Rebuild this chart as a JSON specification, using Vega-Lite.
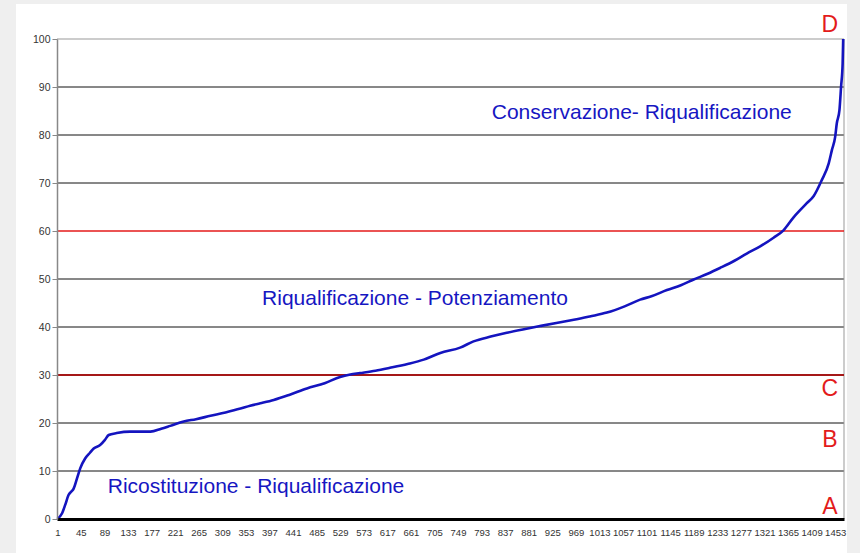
{
  "$schema": "https://vega.github.io/schema/vega-lite/v6.json",
  "width": 787,
  "height": 480,
  "autosize": "none",
  "padding": {"left": 57, "top": 39, "right": 16, "bottom": 34},
  "background": "#efefef",
  "config": {
    "view": {"stroke": null},
    "font": "Liberation Sans",
    "axis": {"labelOverlap": false}
  },
  "datasets": {
    "curve": [
      {"n": 1, "v": 0}, {"n": 10, "v": 1.2}, {"n": 16, "v": 3}, {"n": 22, "v": 5}, {"n": 28, "v": 5.8},
      {"n": 31, "v": 6.2}, {"n": 38, "v": 8.5}, {"n": 44, "v": 10.6}, {"n": 53, "v": 12.6}, {"n": 62, "v": 13.8},
      {"n": 69, "v": 14.7}, {"n": 81, "v": 15.4}, {"n": 90, "v": 16.5}, {"n": 97, "v": 17.5}, {"n": 112, "v": 17.9},
      {"n": 137, "v": 18.2}, {"n": 175, "v": 18.2}, {"n": 195, "v": 18.8}, {"n": 212, "v": 19.4}, {"n": 237, "v": 20.3},
      {"n": 260, "v": 20.8}, {"n": 287, "v": 21.5}, {"n": 315, "v": 22.2}, {"n": 343, "v": 23.0}, {"n": 361, "v": 23.6},
      {"n": 380, "v": 24.1}, {"n": 405, "v": 24.8}, {"n": 435, "v": 25.9}, {"n": 467, "v": 27.2}, {"n": 500, "v": 28.3},
      {"n": 529, "v": 29.6}, {"n": 548, "v": 30.1}, {"n": 566, "v": 30.4}, {"n": 595, "v": 30.9}, {"n": 622, "v": 31.5},
      {"n": 655, "v": 32.3}, {"n": 685, "v": 33.2}, {"n": 716, "v": 34.6}, {"n": 753, "v": 35.7}, {"n": 778, "v": 37.0},
      {"n": 810, "v": 38.0}, {"n": 840, "v": 38.8}, {"n": 870, "v": 39.5}, {"n": 902, "v": 40.2}, {"n": 935, "v": 40.9},
      {"n": 965, "v": 41.5}, {"n": 995, "v": 42.2}, {"n": 1027, "v": 43.0}, {"n": 1060, "v": 44.3}, {"n": 1089, "v": 45.7},
      {"n": 1110, "v": 46.4}, {"n": 1139, "v": 47.7}, {"n": 1165, "v": 48.7}, {"n": 1189, "v": 49.9}, {"n": 1215, "v": 51.1},
      {"n": 1238, "v": 52.3}, {"n": 1265, "v": 53.8}, {"n": 1288, "v": 55.3}, {"n": 1313, "v": 56.8}, {"n": 1338, "v": 58.6},
      {"n": 1357, "v": 60.2}, {"n": 1375, "v": 62.8}, {"n": 1388, "v": 64.4}, {"n": 1400, "v": 65.8}, {"n": 1413, "v": 67.3},
      {"n": 1428, "v": 70.6}, {"n": 1441, "v": 74.1}, {"n": 1447, "v": 76.9}, {"n": 1453, "v": 79.6}, {"n": 1456, "v": 82.4},
      {"n": 1461, "v": 85.2}, {"n": 1464, "v": 90.0}, {"n": 1467, "v": 95.0}, {"n": 1468, "v": 100}
    ],
    "grid": [{"g": 10}, {"g": 20}, {"g": 40}, {"g": 50}, {"g": 70}, {"g": 80}, {"g": 90}],
    "zones": [
      {"label": "Conservazione- Riqualificazione", "x": 1092, "y": 83.3},
      {"label": "Riqualificazione - Potenziamento", "x": 668.7, "y": 44.6},
      {"label": "Ricostituzione - Riqualificazione", "x": 372, "y": 5.5}
    ],
    "letters": [
      {"label": "D", "x": 1443, "y": 101.5},
      {"label": "C", "x": 1443, "y": 25.6},
      {"label": "B", "x": 1443, "y": 15.06},
      {"label": "A", "x": 1443, "y": 1.04}
    ]
  },
  "layer": [
    {
      "data": {"values": [{}]},
      "mark": {"type": "rect", "fill": "white", "clip": false},
      "encoding": {
        "x": {"datum": -76, "type": "quantitative", "title": null, "scale": {"domain": [0.5, 1469.5], "nice": false, "zero": false}},
        "x2": {"datum": 1475},
        "y": {"datum": 107.3, "type": "quantitative", "title": null, "scale": {"domain": [0, 100], "nice": false}},
        "y2": {"datum": -8}
      }
    },
    {
      "data": {"name": "grid"},
      "mark": {"type": "rule", "color": "#111111", "strokeWidth": 1},
      "encoding": {
        "y": {"field": "g", "type": "quantitative", "title": null}
      }
    },
    {
      "data": {"values": [{}]},
      "mark": {"type": "rule", "color": "#999999", "strokeWidth": 1},
      "encoding": {
        "y": {"datum": 100, "type": "quantitative", "title": null}
      }
    },
    {
      "data": {"values": [{}]},
      "mark": {"type": "rule", "color": "#999999", "strokeWidth": 1},
      "encoding": {
        "x": {"datum": 1469.5, "type": "quantitative", "title": null}
      }
    },
    {
      "data": {"values": [{}]},
      "mark": {"type": "rule", "color": "#a51818", "strokeWidth": 2},
      "encoding": {
        "y": {"datum": 30, "type": "quantitative", "title": null}
      }
    },
    {
      "data": {"values": [{}]},
      "mark": {"type": "rule", "color": "#e51a1a", "strokeWidth": 1.5},
      "encoding": {
        "y": {"datum": 60, "type": "quantitative", "title": null}
      }
    },
    {
      "data": {"name": "curve"},
      "mark": {"type": "line", "color": "#1414bf", "strokeWidth": 2.6, "interpolate": "monotone"},
      "encoding": {
        "x": {
          "field": "n", "type": "quantitative", "title": null,
          "axis": {
            "title": null, "zindex": 1, "grid": false, "ticks": false, "tickCount": 60,
            "domainColor": "#000000", "domainWidth": 3,
            "values": [1,45,89,133,177,221,265,309,353,397,441,485,529,573,617,661,705,749,793,837,881,925,969,1013,1057,1101,1145,1189,1233,1277,1321,1365,1409,1453],
            "format": "d",
            "labelFontSize": 9.5, "labelColor": "#333333", "labelPadding": 8,
            "labelOverlap": false, "labelFlush": false, "labelBound": false
          }
        },
        "y": {
          "field": "v", "type": "quantitative", "title": null,
          "axis": {
            "title": null, "zindex": 1, "grid": false, "tickCount": 20,
            "values": [0,10,20,30,40,50,60,70,80,90,100],
            "format": "d",
            "domainColor": "#888888", "domainWidth": 1.5,
            "tickColor": "#888888", "tickSize": 5,
            "labelFontSize": 10.5, "labelColor": "#333333", "labelPadding": 2
          }
        }
      }
    },
    {
      "data": {"name": "zones"},
      "mark": {"type": "text", "color": "#1616c2", "fontSize": 21, "align": "center", "baseline": "alphabetic", "font": "Liberation Sans"},
      "encoding": {
        "x": {"field": "x", "type": "quantitative", "title": null},
        "y": {"field": "y", "type": "quantitative", "title": null},
        "text": {"field": "label"}
      }
    },
    {
      "data": {"name": "letters"},
      "mark": {"type": "text", "color": "#e31b1b", "fontSize": 23, "align": "center", "baseline": "alphabetic", "font": "Liberation Sans"},
      "encoding": {
        "x": {"field": "x", "type": "quantitative", "title": null},
        "y": {"field": "y", "type": "quantitative", "title": null},
        "text": {"field": "label"}
      }
    }
  ]
}
